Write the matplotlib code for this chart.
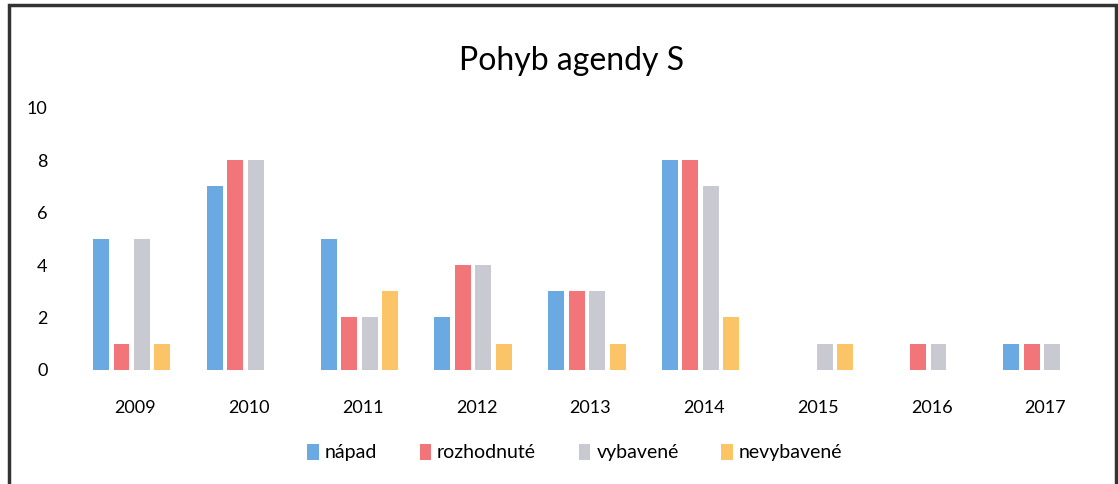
import matplotlib.pyplot as plt
import numpy as np
from matplotlib.patches import Rectangle

plt.rcParams['font.family'] = ['Lato', 'DejaVu Sans']

years = ['2009', '2010', '2011', '2012', '2013', '2014', '2015', '2016', '2017']
napad = [5, 7, 5, 2, 3, 8, 0, 0, 1]
rozhodnute = [1, 8, 2, 4, 3, 8, 0, 1, 1]
vybavene = [5, 8, 2, 4, 3, 7, 1, 1, 1]
nevybavene = [1, 0, 3, 1, 1, 2, 1, 0, 0]

series = [
    ('nápad', napad, '#6aa9e2'),
    ('rozhodnuté', rozhodnute, '#f27579'),
    ('vybavené', vybavene, '#c9c9d2'),
    ('nevybavené', nevybavene, '#fbc466'),
]

fig = plt.figure(figsize=(11.18, 4.84), dpi=100)
ax = fig.add_axes([0.07, 0.236, 0.916, 0.541])

x = np.arange(len(years))
step = 0.18
width = 0.14
for i, (name, vals, col) in enumerate(series):
    ax.bar(x - 0.03 + (i - 1.5) * step, vals, width, color=col, label=name)

ax.set_xlim(-0.5, len(years) - 0.5)
ax.set_ylim(0, 10)
ax.set_yticks([0, 2, 4, 6, 8, 10])
ax.set_xticks(x)
ax.set_xticklabels(years)
ax.tick_params(axis='both', length=0, labelsize=13)
ax.tick_params(axis='x', pad=22)
ax.tick_params(axis='y', pad=22)
for s in ax.spines.values():
    s.set_visible(False)

fig.text(0.511, 0.875, 'Pohyb agendy S', ha='center', va='center', fontsize=23)

fig.legend(loc='center', bbox_to_anchor=(0.514, 0.065), ncol=4, frameon=False,
           fontsize=14, handlelength=0.6, handleheight=0.9, handletextpad=0.3,
           columnspacing=2.2)

# scanned frame around the chart
fig.patches.append(Rectangle((0.008, -0.02), 0.99, 1.01, transform=fig.transFigure,
                             fill=False, edgecolor='#333333', linewidth=2.5))

fig.savefig('out.png', dpi=100)
